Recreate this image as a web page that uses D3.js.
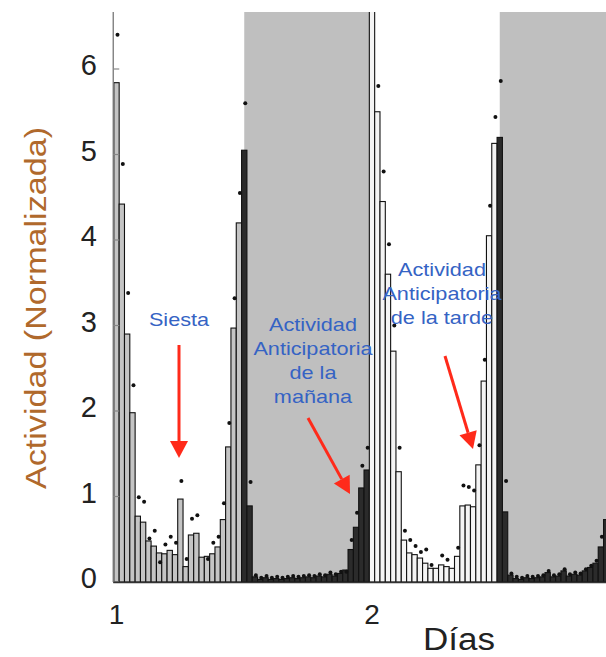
<!DOCTYPE html>
<html><head><meta charset="utf-8">
<script src="https://cdn.jsdelivr.net/npm/d3@7"></script>
<style>html,body{margin:0;padding:0;background:#fff;}svg{display:block;}</style>
</head><body>
<svg id="chart" width="606" height="657"></svg>
<script>
// ---- data (half-hour bins starting at day 1.0) ----
const binsPerDay = 48;
const activity = [
  5.84,4.42,2.90,1.98,0.77,0.70,0.48,0.42,0.34,0.33,0.37,0.32,0.97,0.18,0.55,0.57,0.29,0.30,0.33,0.41,0.73,1.58,2.97,4.20,
  5.05,0.89,0.06,0.03,0.05,0.03,0.04,0.03,0.04,0.05,0.04,0.05,0.06,0.05,0.07,0.06,0.09,0.07,0.10,0.14,0.38,0.64,1.10,1.31,
  7.50,5.50,4.45,3.60,2.70,1.29,0.49,0.34,0.32,0.28,0.22,0.16,0.16,0.20,0.18,0.16,0.30,0.89,0.90,0.88,1.37,2.35,4.05,5.13,
  5.20,0.82,0.08,0.04,0.03,0.05,0.04,0.05,0.06,0.11,0.06,0.07,0.13,0.07,0.09,0.08,0.13,0.17,0.22,0.41,0.73
];
const dots = [
  6.40,4.89,3.38,2.30,0.99,0.94,0.51,0.60,0.23,0.44,0.53,0.46,1.18,0.27,0.74,0.78,null,0.27,0.46,0.53,0.92,1.86,3.32,4.55,
  5.60,1.17,0.08,0.05,0.07,0.05,0.06,0.05,0.06,0.07,0.06,0.07,0.08,0.07,0.09,0.08,0.11,0.09,0.12,0.12,0.49,0.81,1.36,1.57,
  null,5.80,4.80,3.95,3.00,1.57,0.60,0.49,0.42,0.35,0.38,0.20,null,0.31,0.26,null,0.40,1.13,1.11,1.07,1.60,2.60,4.40,5.44,
  5.86,1.18,0.10,0.06,0.05,0.07,0.06,0.07,0.08,0.13,0.08,0.09,0.15,0.09,0.11,0.10,0.15,0.19,0.25,0.53,null
];
const nights = [[1.5, 2.0], [2.5, 3.0]];
const yTicks = [0, 1, 2, 3, 4, 5, 6];
const xTicks = [1, 2];
const yLabel = "Actividad (Normalizada)";
const xLabel = "Días";
const notes = [
  {lines: ["Siesta"], x: 179, y: 320},
  {lines: ["Actividad", "Anticipatoria", "de la", "mañana"], x: 313, y: 325},
  {lines: ["Actividad", "Anticipatoria", "de la tarde"], x: 442, y: 270}
];
const arrows = [
  {from: [179, 345], to: [179, 458]},
  {from: [308, 418], to: [350, 494]},
  {from: [445, 356], to: [473, 449]}
];

// ---- scales ----
const W = 606, H = 657;
const x = d3.scaleLinear().domain([1, 2]).range([116.5, 372]);
const y = d3.scaleLinear().domain([0, 6]).range([582, 69]);
const binW = x(1 + 1 / binsPerDay) - x(1);
const plotLeft = x(1) - binW / 2 - 0.6;
const plotTop = 12;
const plotRight = W;

const svg = d3.select("#chart");
svg.append("defs").append("clipPath").attr("id", "plotclip")
  .append("rect").attr("x", plotLeft).attr("y", plotTop)
  .attr("width", plotRight - plotLeft).attr("height", y(0) - plotTop + 2);

const plot = svg.append("g").attr("clip-path", "url(#plotclip)");

// night shading
plot.selectAll("rect.night").data(nights).join("rect")
  .attr("class", "night")
  .attr("x", d => x(d[0])).attr("y", plotTop)
  .attr("width", d => x(d[1]) - x(d[0])).attr("height", y(0) - plotTop)
  .attr("fill", "#bfbfbf");

// bars
const bins = activity.map((v, i) => {
  const t = 1 + i / binsPerDay;
  const frac = (i % binsPerDay) / binsPerDay;
  const day = Math.floor(i / binsPerDay);
  return {t, v, dot: dots[i], dark: frac >= 0.5, day};
});
plot.selectAll("rect.bar").data(bins).join("rect")
  .attr("class", "bar")
  .attr("x", d => x(d.t) - binW / 2)
  .attr("y", d => y(d.v))
  .attr("width", binW)
  .attr("height", d => y(0) - y(d.v))
  .attr("fill", d => d.dark ? "#2b2b2b" : (d.day === 0 ? "#c4c4c4" : "#f4f4f4"))
  .attr("stroke", "#111")
  .attr("stroke-width", 1.1);

// dots
plot.selectAll("circle.dot").data(bins.filter(d => d.dot !== null)).join("circle")
  .attr("class", "dot")
  .attr("cx", d => x(d.t) + 1)
  .attr("cy", d => y(d.dot))
  .attr("r", 2)
  .attr("fill", "#111");

// axes lines and inward ticks
svg.append("line").attr("x1", plotLeft).attr("x2", plotLeft)
  .attr("y1", plotTop).attr("y2", y(0)).attr("stroke", "#777").attr("stroke-width", 1.3);
svg.selectAll("line.ytick").data(yTicks).join("line")
  .attr("class", "ytick")
  .attr("x1", plotLeft).attr("x2", plotLeft + 6)
  .attr("y1", d => y(d)).attr("y2", d => y(d))
  .attr("stroke", "#888").attr("stroke-width", 1.2);
svg.append("line").attr("x1", plotLeft).attr("x2", plotRight)
  .attr("y1", y(0) + 0.5).attr("y2", y(0) + 0.5).attr("stroke", "#333").attr("stroke-width", 1.6);

// tick labels
svg.selectAll("text.ylab").data(yTicks).join("text")
  .attr("class", "ylab")
  .attr("x", 97).attr("y", d => y(d) - 4)
  .attr("text-anchor", "end").attr("dominant-baseline", "central")
  .attr("font-family", "Liberation Sans, Arial, sans-serif")
  .attr("font-size", 29).attr("fill", "#222")
  .text(d => d);
svg.selectAll("text.xlab").data(xTicks).join("text")
  .attr("class", "xlab")
  .attr("x", d => x(d)).attr("y", 624)
  .attr("text-anchor", "middle")
  .attr("font-family", "Liberation Sans, Arial, sans-serif")
  .attr("font-size", 28).attr("fill", "#222")
  .text(d => d);

// axis titles
svg.append("text")
  .attr("transform", "translate(46,308) rotate(-90)")
  .attr("text-anchor", "middle")
  .attr("font-family", "Liberation Sans, Arial, sans-serif")
  .attr("font-size", 29).attr("fill", "#b0692c")
  .attr("textLength", 362).attr("lengthAdjust", "spacingAndGlyphs")
  .text(yLabel);
svg.append("text")
  .attr("x", 459).attr("y", 650)
  .attr("text-anchor", "middle")
  .attr("font-family", "Liberation Sans, Arial, sans-serif")
  .attr("font-size", 31).attr("fill", "#222")
  .attr("textLength", 72).attr("lengthAdjust", "spacingAndGlyphs")
  .text(xLabel);

// annotations (slightly widened glyphs like the source)
notes.forEach(n => {
  n.lines.forEach((l, k) => {
    const t = svg.append("text")
      .attr("x", n.x).attr("y", n.y + k * 24 + 6)
      .attr("text-anchor", "middle")
      .attr("font-family", "Liberation Sans, Arial, sans-serif")
      .attr("font-size", 19).attr("fill", "#3563c4")
      .text(l);
    const w = t.node().getComputedTextLength();
    t.attr("textLength", w * 1.14).attr("lengthAdjust", "spacingAndGlyphs");
  });
});
arrows.forEach(a => {
  const dx = a.to[0] - a.from[0], dy = a.to[1] - a.from[1];
  const len = Math.hypot(dx, dy), ux = dx / len, uy = dy / len;
  const headL = 17, headW = 9;
  const bx = a.to[0] - ux * headL, by = a.to[1] - uy * headL;
  svg.append("line").attr("x1", a.from[0]).attr("y1", a.from[1])
    .attr("x2", bx).attr("y2", by).attr("stroke", "#ff2a1a").attr("stroke-width", 3);
  svg.append("path")
    .attr("d", `M${a.to[0]},${a.to[1]} L${bx - uy * headW},${by + ux * headW} L${bx + uy * headW},${by - ux * headW} Z`)
    .attr("fill", "#ff2a1a");
});
</script>
</body></html>
